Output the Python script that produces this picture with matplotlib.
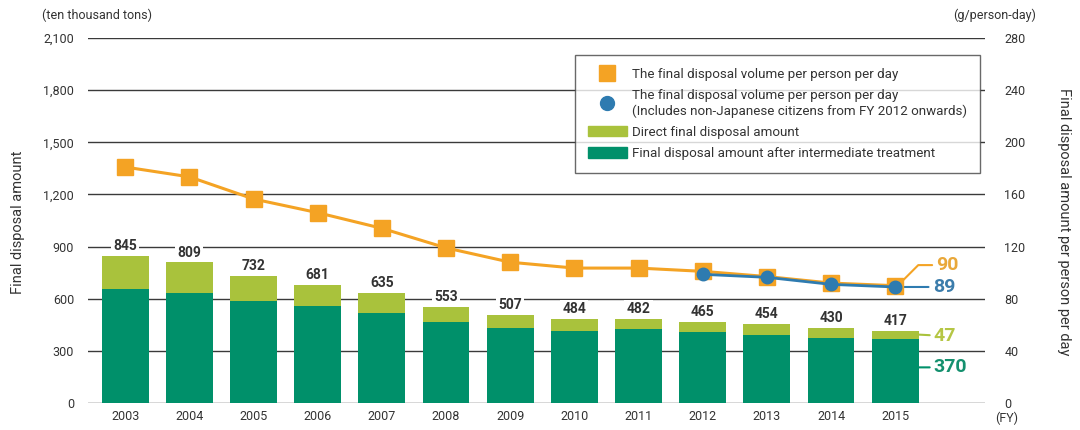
import matplotlib
matplotlib.use("Agg")
import matplotlib.pyplot as plt
from matplotlib.lines import Line2D
from matplotlib.patches import Patch
import numpy as np

plt.rcParams['font.family'] = ['Roboto', 'DejaVu Sans']

years = ['2003', '2004', '2005', '2006', '2007', '2008', '2009', '2010', '2011',
         '2012', '2013', '2014', '2015']
total = [845, 809, 732, 681, 635, 553, 507, 484, 482, 465, 454, 430, 417]
after_treatment = [656, 633, 585, 558, 518, 468, 433, 416, 424, 408, 391, 376, 370]
direct = [t - a for t, a in zip(total, after_treatment)]
per_person = [181, 173.5, 156.5, 146, 134, 119, 108, 103.5, 103.5, 101, 97, 92, 90]
per_person_incl = [98.7, 96.4, 91, 89]
incl_years = ['2012', '2013', '2014', '2015']

left_ticks = [0, 300, 600, 900, 1200, 1500, 1800, 2100]
right_ticks = [0, 40, 80, 120, 160, 200, 240, 280]

C_ORANGE = '#F4A324'
C_BLUE = '#2E7BB0'
C_LGREEN = '#A9C23C'
C_DGREEN = '#00906A'
C_TEXT = '#333333'
C_GRID = '#3a3a3a'

fig = plt.figure(figsize=(10.8, 4.3), dpi=100)
ax = fig.add_axes([88/1080, 1-403/430, 897/1080, 365/430])
ax2 = ax.twinx()

x = np.arange(len(years))
bw = 0.73

for t in left_ticks:
    ax.axhline(t, color=C_GRID, lw=1.0, zorder=0)

ax.bar(x, after_treatment, width=bw, color=C_DGREEN, zorder=2)
ax.bar(x, direct, width=bw, bottom=after_treatment, color=C_LGREEN, zorder=2)

for xi, t in zip(x, total):
    ax.annotate(f'{t}', xy=(xi, t), xytext=(0, 2), textcoords='offset points',
                ha='center', va='bottom', fontsize=10, fontweight='bold', color=C_TEXT,
                bbox=dict(boxstyle='square,pad=0.15', fc='white', ec='none'), zorder=3)

ax.set_ylim(0, 2100)
ax.set_xlim(-0.58, 13.4)
ax.set_yticks(left_ticks)
ax.set_yticklabels([f'{v:,}' for v in left_ticks])
ax.set_xticks(x)
ax.set_xticklabels(years)
ax.tick_params(axis='both', length=0, labelsize=9, colors=C_TEXT)
ax.tick_params(axis='y', pad=10)
ax.tick_params(axis='x', pad=5)
for s in ax.spines.values():
    s.set_visible(False)

ax2.set_ylim(0, 280)
ax2.set_yticks(right_ticks)
ax2.set_yticklabels([str(v) for v in right_ticks])
ax2.tick_params(axis='y', length=0, labelsize=9, colors=C_TEXT, pad=14)
for s in ax2.spines.values():
    s.set_visible(False)

ax2.plot(x, per_person, color=C_ORANGE, lw=2.2, marker='s', ms=11, zorder=4)
xi_incl = [years.index(y) for y in incl_years]
ax2.plot(xi_incl, per_person_incl, color=C_BLUE, lw=2.0, marker='o', ms=9, zorder=5)

# right-side value callouts
ax2.annotate(f'{per_person[-1]:g}', xy=(x[-1] + 0.1, per_person[-1] + 3), xytext=(25, 12),
             textcoords='offset points', ha='left', va='center', fontsize=14,
             fontweight='bold', color='#E9A83A',
             arrowprops=dict(arrowstyle='-', color=C_ORANGE, lw=1.5,
                             connectionstyle='angle,angleA=0,angleB=45',
                             shrinkA=1, shrinkB=0), zorder=6)
ax2.annotate(f'{per_person_incl[-1]:g}', xy=(x[-1], per_person_incl[-1]), xytext=(27, 0),
             textcoords='offset points', ha='left', va='center', fontsize=14,
             fontweight='bold', color='#3B7CAB',
             arrowprops=dict(arrowstyle='-', color=C_BLUE, lw=1.5, shrinkA=1, shrinkB=0),
             zorder=3)
ax.annotate(f'{direct[-1]}', xy=(x[-1] + bw/2, after_treatment[-1] + direct[-1]/2),
            xytext=(11, -1), textcoords='offset points', ha='left', va='center',
            fontsize=14, fontweight='bold', color='#B5C645',
            arrowprops=dict(arrowstyle='-', color=C_LGREEN, lw=1.5, shrinkA=1, shrinkB=0))
ax.annotate(f'{after_treatment[-1]}', xy=(x[-1] + bw/2, after_treatment[-1] / 2 + 20),
            xytext=(11, 0), textcoords='offset points', ha='left', va='center',
            fontsize=14, fontweight='bold', color='#14906E',
            arrowprops=dict(arrowstyle='-', color=C_DGREEN, lw=1.5, shrinkA=1, shrinkB=0))

# legend
handles = [
    Line2D([], [], color=C_ORANGE, marker='s', ms=12, ls='none'),
    Line2D([], [], color=C_BLUE, marker='o', ms=10, ls='none'),
    Patch(color=C_LGREEN),
    Patch(color=C_DGREEN),
]
labels = [
    'The final disposal volume per person per day',
    'The final disposal volume per person per day\n(Includes non-Japanese citizens from FY 2012 onwards)',
    'Direct final disposal amount',
    'Final disposal amount after intermediate treatment',
]
leg = ax2.legend(handles, labels, loc='upper right', bbox_to_anchor=(0.9944, 0.953),
                 fontsize=9.6, frameon=True, fancybox=False, edgecolor='#444444',
                 handlelength=2.95, handleheight=0.8, labelspacing=0.62,
                 borderpad=0.95, handletextpad=0.4, borderaxespad=0)
leg.get_frame().set_linewidth(1.0)
for t in leg.get_texts():
    t.set_color(C_TEXT)

fig.text(42/1080, 1-15/430, '(ten thousand tons)', fontsize=9, color=C_TEXT,
         ha='left', va='center')
fig.text(1036/1080, 1-15/430, '(g/person-day)', fontsize=9, color=C_TEXT,
         ha='right', va='center')
fig.text(995/1080, 1-418/430, '(FY)', fontsize=9, color=C_TEXT, ha='left', va='center')
fig.text(18/1080, 1-222/430, 'Final disposal amount', rotation=90, fontsize=10.5,
         color=C_TEXT, ha='center', va='center')
fig.text(1064/1080, 1-222/430, 'Final disposal amount per person per day', rotation=270,
         fontsize=10.5, color=C_TEXT, ha='center', va='center')

fig.savefig('out.png', dpi=100)
